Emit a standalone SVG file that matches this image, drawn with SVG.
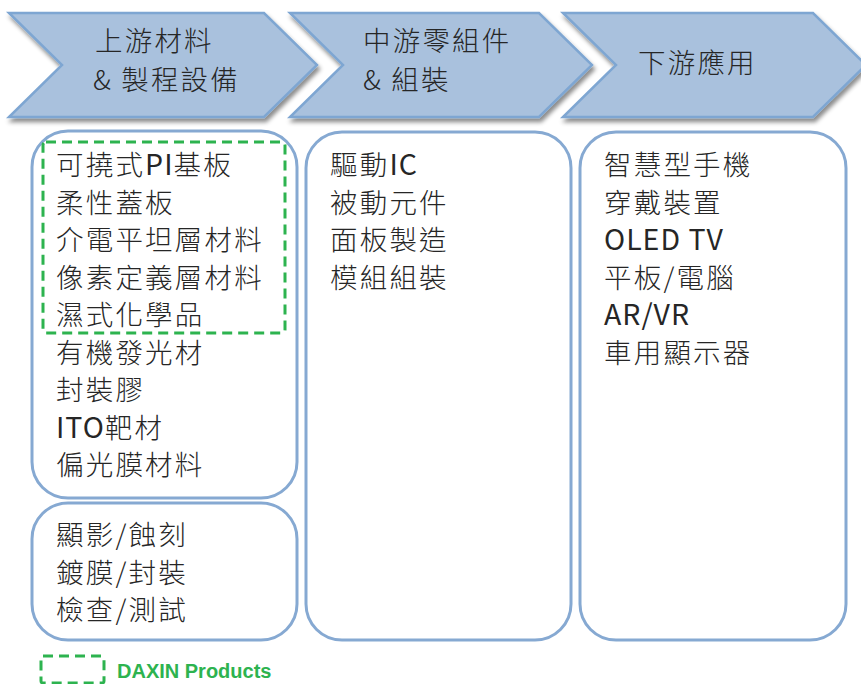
<svg xmlns="http://www.w3.org/2000/svg" width="861" height="684" viewBox="0 0 861 684">
<defs>
<filter id="sh" x="-5%" y="-10%" width="115%" height="130%">
<feDropShadow dx="2" dy="4" stdDeviation="2.2" flood-color="#000" flood-opacity="0.45"/>
</filter>
<style>
.chev{fill:#A9C1DD;stroke:#7EA6D2;stroke-width:2.5;stroke-linejoin:miter}
.box{fill:#fff;stroke:#86A9D2;stroke-width:3}
.t{font-family:"Noto Sans CJK TC","Liberation Sans",sans-serif;font-size:27.5px;font-weight:300;fill:#262626;letter-spacing:2.2px}
.lat{font-weight:400;font-size:28.5px;letter-spacing:1px}
.dash{fill:none;stroke:#2DB34F;stroke-width:3;stroke-dasharray:10 6}
.leg{font-family:"Liberation Sans",Arial,sans-serif;font-weight:bold;font-size:20px;fill:#2DB34F}
</style>
</defs>
<rect width="861" height="684" fill="#fff"/>
<g id="stage-upstream">
<polygon class="chev" filter="url(#sh)" points="9,13 264,13 317,65 264,117 9,117 62,65"/>
<text class="t" x="95" y="51">上游材料</text>
<text class="t" x="93" y="90">&amp; 製程設備</text>
</g>
<g id="stage-midstream">
<polygon class="chev" filter="url(#sh)" points="290,13 539,13 592,65 539,117 290,117 343,65"/>
<text class="t" x="363" y="51">中游零組件</text>
<text class="t" x="363" y="90">&amp; 組裝</text>
</g>
<g id="stage-downstream">
<polygon class="chev" filter="url(#sh)" points="563,13 813,13 866,65 813,117 563,117 616,65"/>
<text class="t" x="638" y="73">下游應用</text>
</g>
<g id="box-materials">
<rect class="box" x="32" y="131" width="265" height="367" rx="36" ry="36"/>
<text class="t" x="56" y="175">可撓式<tspan class="lat">PI</tspan>基板</text>
<text class="t" x="56" y="212.5">柔性蓋板</text>
<text class="t" x="56" y="250">介電平坦層材料</text>
<text class="t" x="56" y="287.5">像素定義層材料</text>
<text class="t" x="56" y="325">濕式化學品</text>
<text class="t" x="56" y="362.5">有機發光材</text>
<text class="t" x="56" y="400">封裝膠</text>
<text class="t" x="56" y="437.5"><tspan class="lat">ITO</tspan>靶材</text>
<text class="t" x="56" y="475">偏光膜材料</text>
</g>
<g id="box-equipment">
<rect class="box" x="32" y="503" width="265" height="137" rx="36" ry="36"/>
<text class="t" x="56" y="545">顯影/蝕刻</text>
<text class="t" x="56" y="582.5">鍍膜/封裝</text>
<text class="t" x="56" y="620">檢查/測試</text>
</g>
<g id="box-midstream">
<rect class="box" x="306" y="132" width="265" height="508" rx="36" ry="36"/>
<text class="t" x="330" y="175">驅動<tspan class="lat">IC</tspan></text>
<text class="t" x="330" y="212.5">被動元件</text>
<text class="t" x="330" y="250">面板製造</text>
<text class="t" x="330" y="287.5">模組組裝</text>
</g>
<g id="box-downstream">
<rect class="box" x="580" y="132" width="266" height="508" rx="36" ry="36"/>
<text class="t" x="604" y="175">智慧型手機</text>
<text class="t" x="604" y="212.5">穿戴裝置</text>
<text class="t lat" x="604" y="250">OLED TV</text>
<text class="t" x="604" y="287.5">平板/電腦</text>
<text class="t lat" x="604" y="325">AR/VR</text>
<text class="t" x="604" y="362.5">車用顯示器</text>
</g>
<g id="daxin-highlight">
<rect class="dash" x="43" y="142" width="242" height="191" rx="3"/>
</g>
<g id="legend">
<rect class="dash" x="41" y="656" width="63" height="27" rx="2"/>
<text class="leg" x="117" y="678">DAXIN Products</text>
</g>
<g id="connectors"></g>
</svg>
